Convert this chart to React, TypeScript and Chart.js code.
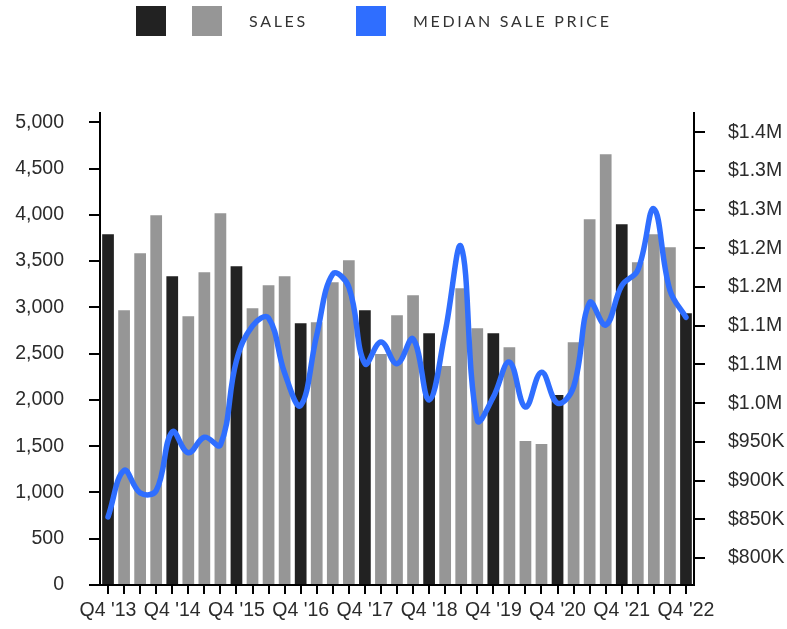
import React, { useEffect, useRef } from "react";
import { Chart, registerables } from "chart.js";

Chart.register(...registerables);

const quarters = [
  "Q4 '13", "Q1 '14", "Q2 '14", "Q3 '14", "Q4 '14", "Q1 '15", "Q2 '15", "Q3 '15",
  "Q4 '15", "Q1 '16", "Q2 '16", "Q3 '16", "Q4 '16", "Q1 '17", "Q2 '17", "Q3 '17",
  "Q4 '17", "Q1 '18", "Q2 '18", "Q3 '18", "Q4 '18", "Q1 '19", "Q2 '19", "Q3 '19",
  "Q4 '19", "Q1 '20", "Q2 '20", "Q3 '20", "Q4 '20", "Q1 '21", "Q2 '21", "Q3 '21",
  "Q4 '21", "Q1 '22", "Q2 '22", "Q3 '22", "Q4 '22",
];

const sales = [
  3790, 2970, 3585, 3995, 3337, 2905, 3380, 4017,
  3445, 2991, 3240, 3337, 2829, 2840, 3272, 3510,
  2970, 2495, 2916, 3132, 2721, 2365, 3207, 2775,
  2721, 2570, 1555, 1523, 2052, 2624, 3952, 4654,
  3898, 3488, 3790, 3650, 2937,
];

const medianPrice = [
  853000, 913000, 884000, 887000, 963000, 936000, 956000, 946000,
  1055000, 1100000, 1110000, 1039000, 997000, 1088000, 1167000, 1150000,
  1051000, 1079000, 1051000, 1083000, 1004000, 1092000, 1202000, 978000,
  1008000, 1053000, 995000, 1040000, 1000000, 1021000, 1130000, 1101000,
  1152000, 1172000, 1251000, 1146000, 1111000,
];

const salesTicks = [0, 500, 1000, 1500, 2000, 2500, 3000, 3500, 4000, 4500, 5000];
const priceTicks = [
  800000, 850000, 900000, 950000, 1000000, 1050000, 1100000, 1150000,
  1200000, 1250000, 1300000, 1350000,
];

const Q4_COLOR = "#222222";
const OTHER_COLOR = "#969696";
const LINE_COLOR = "#2F6EFF";

function fmtPrice(v: number): string {
  if (v >= 1000000) return "$" + (Math.round(v / 100000) / 10).toFixed(1) + "M";
  return "$" + Math.round(v / 1000) + "K";
}

export default function App() {
  const ref = useRef<HTMLCanvasElement | null>(null);

  useEffect(() => {
    if (!ref.current) return;
    const tickFont = { family: "'Liberation Sans', Arial, sans-serif", size: 19.5 };
    const chart = new Chart(ref.current, {
      type: "bar",
      data: {
        labels: quarters,
        datasets: [
          {
            type: "line",
            label: "Median Sale Price",
            data: medianPrice,
            yAxisID: "y1",
            borderColor: LINE_COLOR,
            backgroundColor: LINE_COLOR,
            borderWidth: 5.5,
            pointRadius: 0,
            tension: 0.4,
            borderCapStyle: "round",
            borderJoinStyle: "round",
            order: 0,
          } as any,
          {
            type: "bar",
            label: "Sales",
            data: sales,
            yAxisID: "y",
            backgroundColor: quarters.map((q) => (q.startsWith("Q4") ? Q4_COLOR : OTHER_COLOR)),
            categoryPercentage: 1,
            barPercentage: 0.73,
            order: 1,
          },
        ],
      },
      options: {
        responsive: false,
        animation: false,
        layout: { padding: { top: 113, left: 0, right: 0, bottom: 0 } },
        plugins: { legend: { display: false }, tooltip: { enabled: false } },
        scales: {
          x: {
            offset: true,
            grid: {
              offset: false,
              drawOnChartArea: false,
              drawTicks: true,
              tickLength: 9,
              color: "#000",
              lineWidth: 2,
            },
            border: { display: true, color: "#000", width: 2 },
            ticks: {
              autoSkip: false,
              maxRotation: 0,
              minRotation: 0,
              padding: 5,
              color: "#2b2b2b",
              font: tickFont,
              callback: (_v: any, i: number) => (quarters[i].startsWith("Q4") ? quarters[i] : ""),
            },
            afterFit: (s: any) => {
              s.height = 44;
            },
          },
          y: {
            position: "left",
            min: 0,
            max: 5100,
            grid: {
              drawOnChartArea: false,
              drawTicks: true,
              tickLength: 11,
              color: "#000",
              lineWidth: 2,
            },
            border: { display: true, color: "#000", width: 2 },
            afterBuildTicks: (s: any) => {
              s.ticks = salesTicks.map((v) => ({ value: v }));
            },
            ticks: {
              padding: 25,
              color: "#2b2b2b",
              font: tickFont,
              callback: (v: any) => Number(v).toLocaleString("en-US"),
            },
            afterFit: (s: any) => {
              s.width = 100;
            },
          },
          y1: {
            position: "right",
            min: 765000,
            max: 1375000,
            grid: {
              drawOnChartArea: false,
              drawTicks: true,
              tickLength: 11,
              color: "#000",
              lineWidth: 2,
            },
            border: { display: true, color: "#000", width: 2 },
            afterBuildTicks: (s: any) => {
              s.ticks = priceTicks.map((v) => ({ value: v }));
            },
            ticks: {
              padding: 23,
              color: "#2b2b2b",
              font: tickFont,
              callback: (v: any) => fmtPrice(Number(v)),
            },
            afterFit: (s: any) => {
              s.width = 93;
            },
          },
        },
      } as any,
    });
    return () => chart.destroy();
  }, []);

  const box = (left: number, color: string): React.CSSProperties => ({
    position: "absolute",
    left,
    top: 6,
    width: 30,
    height: 30,
    background: color,
  });
  const text = (left: number): React.CSSProperties => ({
    position: "absolute",
    left,
    top: 10,
    height: 22,
    lineHeight: "22px",
    fontFamily: "Lato, 'Open Sans', sans-serif",
    fontWeight: 400,
    fontSize: 16,
    letterSpacing: 2.7,
    color: "#333",
    whiteSpace: "nowrap",
  });

  return (
    <div style={{ position: "absolute", left: 0, top: 0, width: 787, height: 629, background: "#fff" }}>
      <canvas ref={ref} width={787} height={629} style={{ position: "absolute", left: 0, top: 0 }} />
      <div style={box(136, Q4_COLOR)} />
      <div style={box(192, OTHER_COLOR)} />
      <div style={text(249)}>SALES</div>
      <div style={box(356, LINE_COLOR)} />
      <div style={text(413)}>MEDIAN SALE PRICE</div>
    </div>
  );
}
